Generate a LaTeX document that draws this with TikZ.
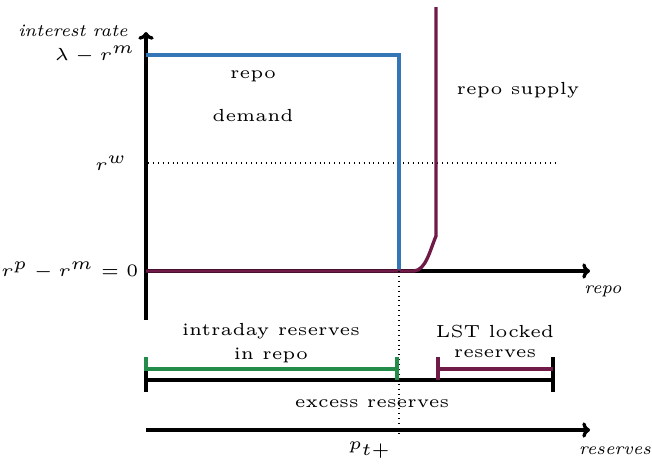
\documentclass[tikz,border=0pt]{standalone}
\usetikzlibrary{arrows.meta}
\definecolor{demandblue}{RGB}{52,118,182}
\definecolor{supplyred}{RGB}{112,26,72}
\definecolor{intragreen}{RGB}{34,140,72}
\begin{document}
\begin{tikzpicture}[x=0.2857pt,y=-0.2857pt,
  axis/.style={line width=0.95pt,-{To[length=2.2pt,width=4.4pt]}},
  curve/.style={line width=0.95pt},
  lbl/.style={font=\tiny,inner sep=0pt},
  axlbl/.style={font=\tiny\itshape,inner sep=0pt},
  guide/.style={line width=0.3pt,dash pattern=on 0.3pt off 1.1pt}]
\useasboundingbox (0,0) rectangle (652,463);
% axes
\coordinate (o) at (146,271);
\coordinate (ybot) at (146,320);
\coordinate (ytop) at (146,32);
\coordinate (xend) at (590,271);
\draw[axis] (ybot) -- (ytop);
\draw[axis] (o) -- (xend);
\node[axlbl] (ylab) at (73,31) {interest rate};
\node[axlbl] (xlab) at (603,291) {repo};
% rate levels
\node[lbl,anchor=east] (lam) at (136,55) {$\lambda - r^{m}$};
\node[lbl,anchor=east] (rw) at (128,163) {$r^{w}$};
\node[lbl,anchor=east] (rp) at (139,271) {$r^{p} - r^{m} = 0$};
\coordinate (rwl) at (148,163);
\coordinate (rwr) at (555,163);
\draw[guide] (rwl) -- (rwr);
% demand and supply
\coordinate (d0) at (146,55);
\coordinate (d1) at (399,55);
\coordinate (d2) at (399,271);
\draw[curve,demandblue] (d0) -- (d1) -- (d2);
\coordinate (s0) at (146,271);
\coordinate (s1) at (414,271);
\coordinate (s2) at (436,236);
\coordinate (s3) at (436,7);
\draw[curve,supplyred] (s0) -- (s1) .. controls (426,270) and (430,250) .. (s2) -- (s3);
\node[lbl] (rep) at (253,76) {repo};
\node[lbl] (dem) at (253,116) {demand};
\node[lbl] (sup) at (518,90) {repo supply};
% reserves split
\coordinate (p0) at (399,271);
\coordinate (p1) at (399,433);
\draw[guide] (p0) -- (p1);
\coordinate (e0) at (146,380);
\coordinate (e1) at (553,380);
\draw[curve,black] (146,392) -- (146,369);
\draw[curve,black] (e0) -- (e1);
\draw[curve,black] (553,357) -- (553,392);
\coordinate (g0) at (146,369);
\coordinate (g1) at (397,369);
\draw[curve,intragreen] (146,357) -- (g0) -- (g1) -- (397,357) (397,369) -- (397,380);
\coordinate (l0) at (438,369);
\coordinate (l1) at (553,369);
\draw[curve,supplyred] (438,357) -- (438,380) (l0) -- (l1);
\node[lbl] (intra1) at (271,331) {intraday reserves};
\node[lbl] (intra2) at (271,355) {in repo};
\node[lbl] (lst1) at (495,331) {LST locked};
\node[lbl] (lst2) at (495,354) {reserves};
\node[lbl] (exc) at (372,404) {excess reserves};
% reserves axis
\coordinate (r0) at (146,430);
\coordinate (r1) at (590,430);
\draw[axis] (r0) -- (r1);
\node[lbl] (pt) at (370,450) {$p_{t+}$};
\node[axlbl] (rlab) at (615,451) {reserves};
\end{tikzpicture}
\end{document}
